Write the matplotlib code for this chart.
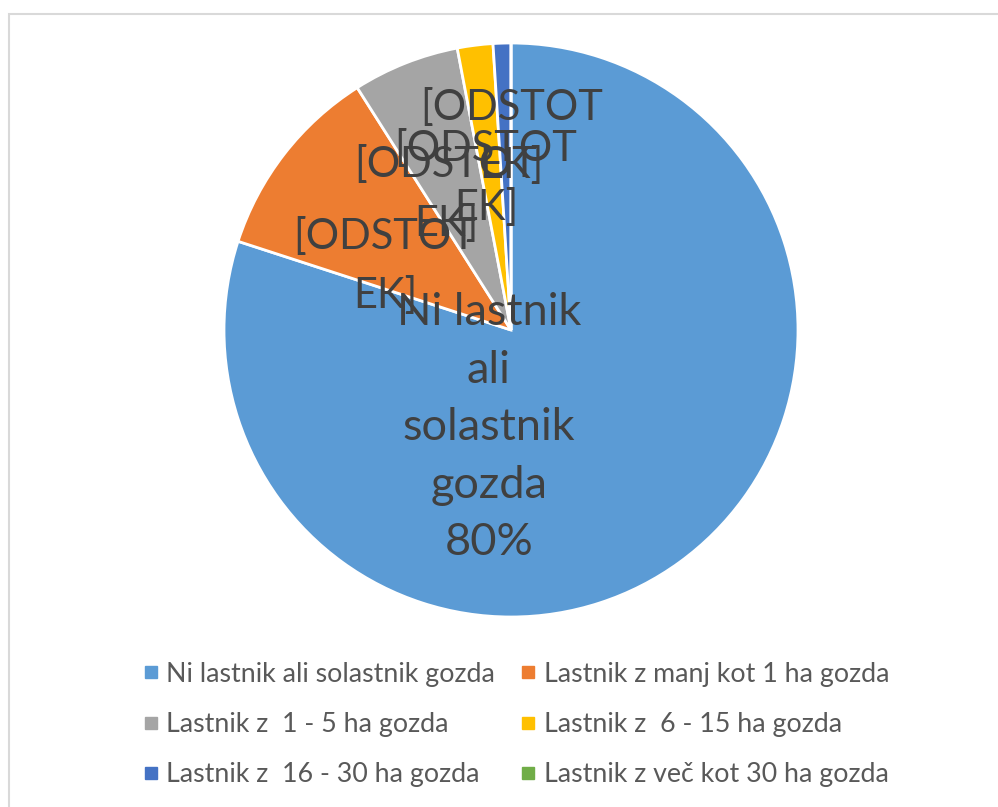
import matplotlib
matplotlib.use("Agg")
import matplotlib.pyplot as plt
from matplotlib.lines import Line2D
from matplotlib.patches import Rectangle

categories = [
    "Ni lastnik ali solastnik gozda",
    "Lastnik z manj kot 1 ha gozda",
    "Lastnik z  1 - 5 ha gozda",
    "Lastnik z  6 - 15 ha gozda",
    "Lastnik z  16 - 30 ha gozda",
    "Lastnik z več kot 30 ha gozda",
]
values = [80, 11, 6, 2, 1, 0]
colors = ["#5B9BD5", "#ED7D31", "#A5A5A5", "#FFC000", "#4472C4", "#70AD47"]
placeholder = "[ODSTOT\nEK]"
first_label_lines = ["Ni lastnik", "ali", "solastnik", "gozda"]

# label anchor positions (radius units, relative to pie centre)
label_pos = [(-0.077, -0.341), (-0.439, 0.223), (-0.226, 0.474),
             (-0.087, 0.530), (0.003, 0.674)]

FONT = ["Lato", "DejaVu Sans"]
plt.rcParams["font.family"] = FONT

W, H = 998, 807
fig = plt.figure(figsize=(W / 100, H / 100), dpi=100)
fig.patch.set_facecolor("white")

# chart frame
fig.patches.append(Rectangle((8.5 / W, -0.01), 1.2, (H - 13.5) / H + 0.01,
                             transform=fig.transFigure, fill=False,
                             edgecolor="#D9D9D9", linewidth=1.5))

cx, cy, R = 511, 330, 287
ax = fig.add_axes([(cx - R) / W, (H - cy - R) / H, 2 * R / W, 2 * R / H])
wedges, _ = ax.pie(values, colors=colors, startangle=90, counterclock=False,
                   radius=1.0, wedgeprops=dict(edgecolor="white", linewidth=2))
ax.set_xlim(-1, 1)
ax.set_ylim(-1, 1)
ax.set_aspect("equal")
ax.axis("off")

total = sum(values)
txt_color = "#404040"
for i, (x, y) in enumerate(label_pos):
    if i == 0:
        s = "\n".join(first_label_lines) + f"\n{values[0] / total * 100:.0f}%"
        fs, ls = 32.5, 1.5
    else:
        s = placeholder
        fs, ls = 30, 1.62
    ax.text(x, y, s, ha="center", va="center", fontsize=fs, color=txt_color,
            linespacing=ls, multialignment="center")

# legend filled row by row (2 columns)
order = [0, 2, 4, 1, 3, 5]
handles = [Line2D([], [], linestyle="none", marker="s", markersize=8,
                  markerfacecolor=colors[k], markeredgecolor=colors[k])
           for k in order]
labels = [categories[k] for k in order]
leg = fig.legend(handles, labels, ncol=2, loc="center",
                 bbox_to_anchor=(516 / W, 1 - 724.5 / H), frameon=False,
                 fontsize=19.3, labelcolor="#595959", handlelength=0.6,
                 handletextpad=0.28, columnspacing=0.95, labelspacing=0.94,
                 borderaxespad=0, borderpad=0)

fig.savefig("out.png", dpi=100, facecolor="white")
